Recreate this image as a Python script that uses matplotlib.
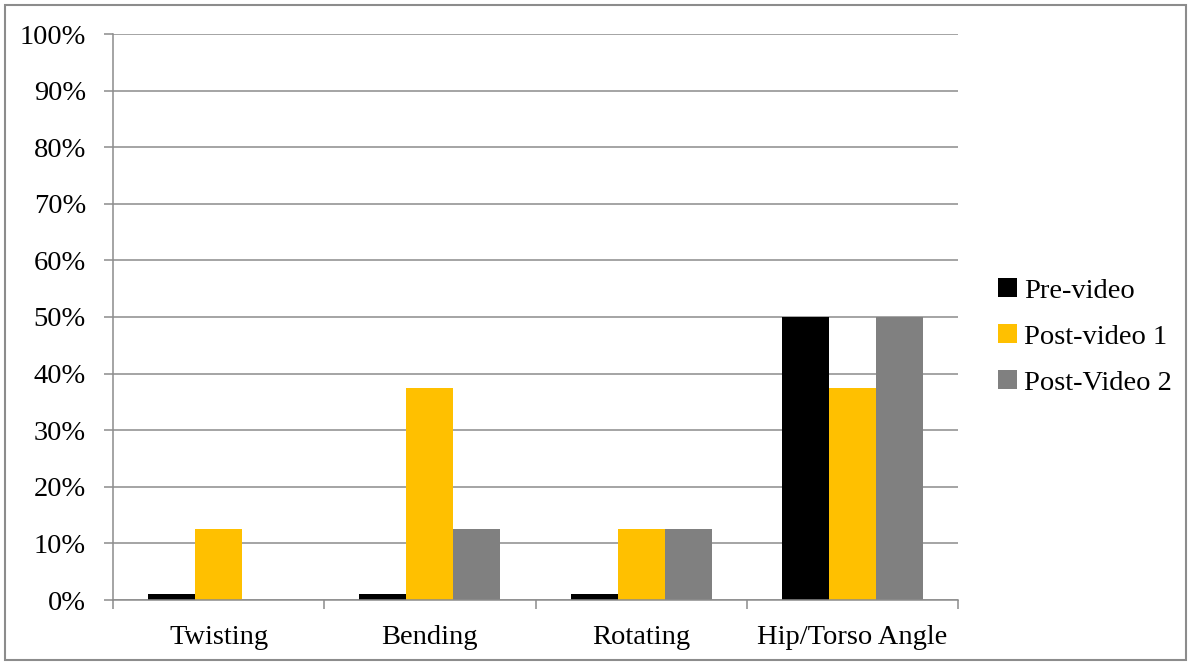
import matplotlib
matplotlib.use("Agg")
import matplotlib.pyplot as plt
from matplotlib.patches import Rectangle
from matplotlib.ticker import PercentFormatter, FixedLocator, NullFormatter
import numpy as np

categories = ["Twisting", "Bending", "Rotating", "Hip/Torso Angle"]
series_names = ["Pre-video", "Post-video 1", "Post-Video 2"]
pre_video = [1.0, 1.0, 1.0, 50.0]
post_video_1 = [12.5, 37.5, 12.5, 37.5]
post_video_2 = [0.0, 12.5, 12.5, 50.0]
colors = ["#000000", "#FFC000", "#808080"]

plt.rcParams["font.family"] = ["Liberation Serif", "DejaVu Serif"]

fig = plt.figure(figsize=(11.91, 6.65), dpi=100)
ax = fig.add_axes([113 / 1191, 65 / 665, 845 / 1191, 566 / 665])

x = np.arange(len(categories))
width = 0.2225
for i, (vals, name, c) in enumerate(zip([pre_video, post_video_1, post_video_2], series_names, colors)):
    ax.bar(x + (i - 1) * width, vals, width, color=c, label=name, zorder=3)

ax.set_xlim(-0.5, len(categories) - 0.5)
ax.set_ylim(0, 100)
ax.yaxis.set_major_locator(FixedLocator(np.arange(0, 101, 10)))
ax.yaxis.set_major_formatter(PercentFormatter(decimals=0))
ax.grid(axis="y", color="#8c8c8c", linewidth=1.1, zorder=0)

ax.set_xticks(x)
ax.set_xticklabels(categories)
ax.xaxis.set_minor_locator(FixedLocator(np.arange(-0.5, len(categories), 1.0)))
ax.xaxis.set_minor_formatter(NullFormatter())
ax.tick_params(axis="x", which="major", length=0, pad=18, labelsize=20.5)
ax.tick_params(axis="x", which="minor", length=6.5, width=1.1, color="#8c8c8c")
ax.tick_params(axis="y", length=6.5, width=1.1, color="#8c8c8c", pad=13, labelsize=20.5)

for s in ["top", "right"]:
    ax.spines[s].set_visible(False)
for s in ["left", "bottom"]:
    ax.spines[s].set_color("#8c8c8c")
    ax.spines[s].set_linewidth(1.1)
    ax.spines[s].set_zorder(4)

ax.legend(loc="center left", bbox_to_anchor=(1.034, 0.465), frameon=False,
          fontsize=20.5, handlelength=0.65, handleheight=0.65, handletextpad=0.25,
          labelspacing=0.72, borderaxespad=0)

fig.patches.append(Rectangle((5 / 1191, 5 / 665), 1181 / 1191, 655 / 665,
                             transform=fig.transFigure, fill=False,
                             edgecolor="#8c8c8c", linewidth=1.5))

fig.savefig("out.png", dpi=100)
